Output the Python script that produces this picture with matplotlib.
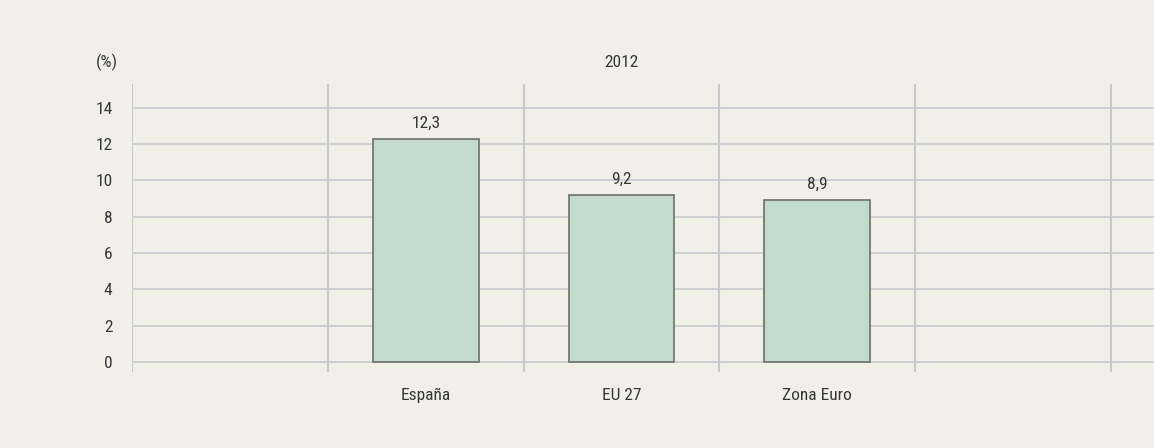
import matplotlib
matplotlib.use("Agg")
import matplotlib.pyplot as plt
from matplotlib import font_manager

categories = ["", "España", "EU 27", "Zona Euro", ""]
values = [None, 12.3, 9.2, 8.9, None]
value_labels = ["", "12,3", "9,2", "8,9", ""]
yticks = [0, 2, 4, 6, 8, 10, 12, 14]
title = "2012"
unit = "(%)"

names = {f.name for f in font_manager.fontManager.ttflist}
prefs = ["Roboto Condensed", "Archivo Narrow", "Liberation Sans Narrow", "Barlow Semi Condensed", "Liberation Sans"]
main = next((p for p in prefs if p in names), "DejaVu Sans")
plt.rcParams['font.family'] = [main, "DejaVu Sans"]
FS = 12.5

BG = "#F1F0E8"
GRID = "#C9C9CD"
TXT = "#363636"

W, H = 1154, 448
fig = plt.figure(figsize=(W / 100, H / 100), dpi=100, facecolor=BG)
left, right, top, bottom = 132, 1154, 84, 372
ax = fig.add_axes([left / W, 1 - bottom / H, (right - left) / W, (bottom - top) / H])
ax.set_facecolor(BG)
for s in ax.spines.values():
    s.set_visible(False)

ncat = len(categories)
slot = (1111 - 132) / ncat
xmax = ncat + (right - 1111) / slot
ax.set_xlim(0, xmax)
ax.set_ylim(-0.55, 15.3)

for t in yticks:
    ax.axhline(t, color=GRID, lw=1.2, zorder=1)
for i in range(ncat + 1):
    ax.axvline(i, color=GRID, lw=1.5, zorder=1)

for i, (v, lab) in enumerate(zip(values, value_labels)):
    if v is None:
        continue
    ax.bar(i + 0.5, v, width=0.54, color="#C3DBCA", edgecolor="#6E6E6E", lw=1.2, zorder=2)
    ax.text(i + 0.5, v + 0.45, lab, ha="center", va="bottom", fontsize=FS, color=TXT)

ax.set_xticks([])
ax.set_yticks(yticks)
ax.set_yticklabels([str(t) for t in yticks], fontsize=FS, color=TXT)
ax.tick_params(axis='y', length=0, pad=14)

for i, c in enumerate(categories):
    if c:
        fig.text((left + (i + 0.5) * slot) / W, 1 - 395 / H, c,
                 ha="center", va="center", fontsize=FS, color=TXT)

fig.text(107 / W, 1 - 62 / H, unit, ha="center", va="center", fontsize=FS, color=TXT)
fig.text((left + 2.5 * slot) / W, 1 - 62 / H, title, ha="center", va="center", fontsize=FS, color=TXT)

fig.savefig("out.png", dpi=100, facecolor=BG)
